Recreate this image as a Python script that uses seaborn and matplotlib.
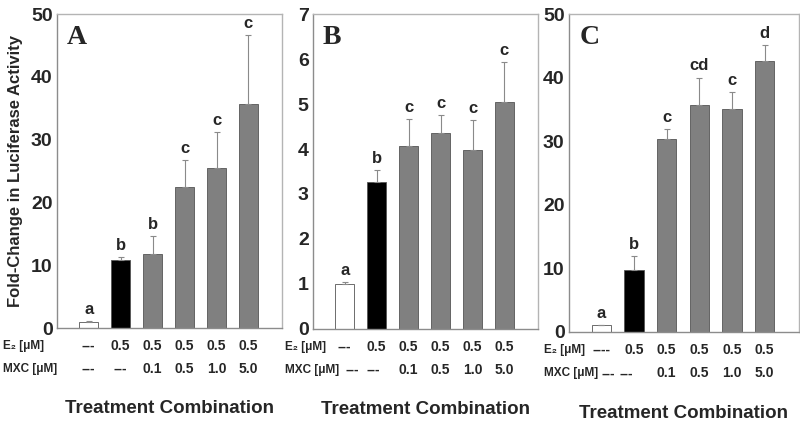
"""Fold-change in luciferase activity for three treatment panels."""

import numpy as np
import seaborn as sns
import matplotlib.pyplot as plt
from matplotlib import transforms

# panel values
MEANS_A = [1.0, 10.8, 11.8, 22.4, 25.5, 35.6]
ERRS_A = [0.1, 0.5, 2.8, 4.4, 5.7, 11.1]
LETTERS_A = ['a', 'b', 'b', 'c', 'c', 'c']

MEANS_B = [1.0, 3.26, 4.07, 4.36, 3.98, 5.05]
ERRS_B = [0.04, 0.27, 0.6, 0.39, 0.66, 0.89]
LETTERS_B = ['a', 'b', 'c', 'c', 'c', 'c']

MEANS_C = [1.05, 9.8, 30.3, 35.7, 35.0, 42.6]
ERRS_C = [0.0, 2.1, 1.6, 4.3, 2.7, 2.5]
LETTERS_C = ['a', 'b', 'c', 'cd', 'c', 'd']

E2_LABELS = ['---', '0.5', '0.5', '0.5', '0.5', '0.5']
E2_LABELS_C = ['----', '0.5', '0.5', '0.5', '0.5', '0.5']
MXC_LABELS = ['---', '---', '0.1', '0.5', '1.0', '5.0']

PANELS = ['A', 'B', 'C']
YTICKS_A = [0, 10, 20, 30, 40, 50]
YTICKS_B = [0, 1, 2, 3, 4, 5, 6, 7]
YTICKS_C = [0, 10, 20, 30, 40, 50]

BAR_COLORS = ['white', 'black', '#808080', '#808080', '#808080', '#808080']
FONT = ['Liberation Sans', 'DejaVu Sans']
E2_ROW_Y = -0.056
MXC_ROW_Y = -0.13


def draw_panel(ax, means, errs, letters, yticks, e2_labels, panel, mxc_shift, label_x):
    """Draw one bar panel with its treatment table."""
    cats = [str(i) for i in range(len(means))]
    sns.barplot(x=cats, y=means, hue=cats, palette=BAR_COLORS, legend=False,
                width=0.6, edgecolor='#555555', linewidth=0.6, ax=ax)
    x = np.arange(len(means))
    ax.errorbar(x, means, yerr=[np.zeros(len(errs)), errs], fmt='none',
                ecolor='#8a8a8a', elinewidth=0.8, capsize=2, capthick=0.8)
    for xi, m, e, let in zip(x, means, errs, letters):
        ax.annotate(let, (xi, m + e), xytext=(0, 3), textcoords='offset points',
                    ha='center', va='bottom', fontsize=12, fontweight='bold',
                    family=FONT)
    ax.set_xlim(-1, 6.05)
    ax.set_ylim(yticks[0], yticks[-1])
    ax.set_yticks(yticks)
    ax.set_yticklabels([str(t) for t in yticks], fontsize=14, fontweight='bold',
                       family=FONT)
    ax.set_xticks([])
    ax.tick_params(axis='y', length=0, pad=3)
    for side in ['left', 'bottom']:
        ax.spines[side].set_color('#8c8c8c')
        ax.spines[side].set_linewidth(1.0)
    for side in ['top', 'right']:
        ax.spines[side].set_color('#b4b4b4')
        ax.spines[side].set_linewidth(1.0)

    ax.text(0.045, 0.925, panel, transform=ax.transAxes, fontsize=20,
            fontweight='bold', family=['Liberation Serif', 'DejaVu Serif'],
            ha='left', va='center')

    blend = transforms.blended_transform_factory(ax.transData, ax.transAxes)
    ax.text(label_x, E2_ROW_Y, 'E\u2082 [\u03bcM]', transform=ax.transAxes,
            fontsize=8.5, fontweight='bold', family=FONT, va='center', ha='left')
    ax.text(label_x, MXC_ROW_Y, 'MXC [\u03bcM]', transform=ax.transAxes,
            fontsize=8.5, fontweight='bold', family=FONT, va='center', ha='left')
    for i, lab in enumerate(e2_labels):
        ax.text(x[i], E2_ROW_Y, lab, transform=blend, fontsize=10,
                fontweight='bold', family=FONT, ha='center', va='center')
    for i, lab in enumerate(MXC_LABELS):
        ax.text(x[i] + mxc_shift[i], MXC_ROW_Y, lab, transform=blend, fontsize=10,
                fontweight='bold', family=FONT, ha='center', va='center')
    ax.text(0.5, -0.255, 'Treatment Combination', transform=ax.transAxes,
            fontsize=13.5, fontweight='bold', family=FONT, ha='center',
            va='center')


sns.set_theme(style="white")
plt.rcParams['font.family'] = FONT

fig = plt.figure(figsize=(8, 4.22), dpi=100)
ax_a = fig.add_axes([0.071, 0.2227, 0.2815, 0.744])
ax_b = fig.add_axes([0.391, 0.2204, 0.2815, 0.7464])
ax_c = fig.add_axes([0.711, 0.2133, 0.2875, 0.7535])

draw_panel(ax_a, MEANS_A, ERRS_A, LETTERS_A, YTICKS_A, E2_LABELS, PANELS[0],
           [0, 0, 0, 0, 0, 0], -0.24)
draw_panel(ax_b, MEANS_B, ERRS_B, LETTERS_B, YTICKS_B, E2_LABELS, PANELS[1],
           [0.25, -0.1, 0, 0, 0, 0], -0.125)
draw_panel(ax_c, MEANS_C, ERRS_C, LETTERS_C, YTICKS_C, E2_LABELS_C, PANELS[2],
           [0.22, -0.25, 0, 0, 0, 0], -0.11)

ax_a.set_ylabel('Fold-Change in Luciferase Activity', fontsize=12,
                fontweight='bold', family=FONT)
ax_a.yaxis.set_label_coords(-0.15, 0.5)

plt.savefig('out.png', dpi=100)
